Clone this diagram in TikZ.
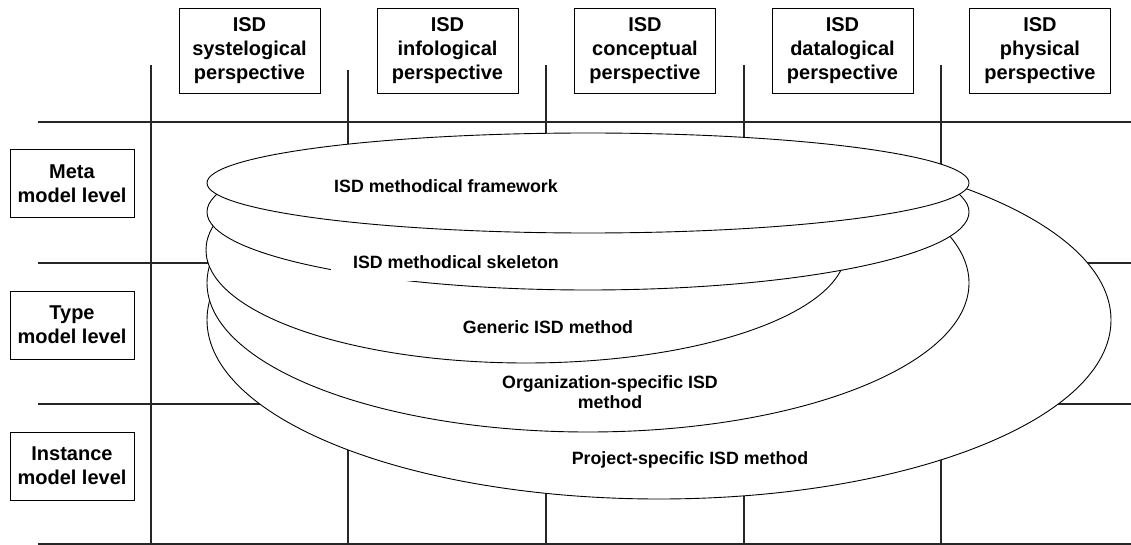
\documentclass[tikz,border=0pt]{standalone}
\usepackage{fontspec}
\setmainfont{Liberation Sans}
\usetikzlibrary{shapes.geometric}
\begin{document}
\begin{tikzpicture}[x=1pt,y=-1pt,
  gridline/.style={line width=1.3pt,black!85},
  persp/.style={draw,line width=0.9pt,fill=white,minimum width=141pt,minimum height=85pt,
    inner sep=0pt,align=center,font=\fontsize{20}{24}\selectfont\bfseries},
  level/.style={draw,line width=0.9pt,fill=white,minimum width=124pt,minimum height=68pt,
    inner sep=0pt,align=center,font=\fontsize{20}{24}\selectfont\bfseries},
  layer/.style={ellipse,draw,line width=0.9pt,fill=white,inner sep=0pt,outer sep=0pt},
  layerlabel/.style={fill=white,inner sep=0pt,minimum width=250pt,minimum height=38pt,
    align=center,font=\fontsize{17.8}{20}\selectfont\bfseries}]
\useasboundingbox (0,0) rectangle (1131,545);

% level separators
\draw[gridline] (38,122) -- (1131,122);
\draw[gridline] (38,263) -- (1131,263);
\draw[gridline] (38,404) -- (1131,404);
\draw[gridline] (38,544) -- (1131,544);
% perspective separators
\draw[gridline] (151,65) -- (151,544);
\draw[gridline] (348,70) -- (348,544);
\draw[gridline] (546,65) -- (546,544);
\draw[gridline] (744,65) -- (744,544);
\draw[gridline] (941,65) -- (941,544);

% perspective headers
\node[persp] (syst) at (249.5,50.5) {ISD\\systelogical\\perspective};
\node[persp] (info) at (447.5,50.5) {ISD\\infological\\perspective};
\node[persp] (conc) at (645,50.5) {ISD\\conceptual\\perspective};
\node[persp] (data) at (842.5,50.5) {ISD\\datalogical\\perspective};
\node[persp] (phys) at (1040,50.5) {ISD\\physical\\perspective};

% model levels
\node[level] (meta) at (72,183.5) {Meta\\model level};
\node[level] (type) at (72,325) {Type\\model level};
\node[level] (inst) at (72,466) {Instance\\model level};

% stacked method layers, bottom to top
\node[layer,minimum width=904pt,minimum height=358pt] (proj) at (659,320) {};
\node[layer,minimum width=762pt,minimum height=298pt] (org) at (588,283) {};
\node[layer,minimum width=640pt,minimum height=226pt] (gen) at (526,250) {};
\node[layer,minimum width=762pt,minimum height=156pt] (skel) at (588,212) {};
\node[layer,minimum width=762pt,minimum height=100pt] (frame) at (588,183) {};

% layer labels
\node[layerlabel] (frameL) at (446,186) {ISD methodical framework};
\node[layerlabel] (skelL) at (456,262) {ISD methodical skeleton};
\node[layerlabel] (genL) at (548,327) {Generic ISD method};
\node[layerlabel,minimum height=50pt] (orgL) at (610,392) {Organization-specific ISD\\method};
\node[layerlabel] (projL) at (690,460) {Project-specific ISD method};
\end{tikzpicture}
\end{document}
